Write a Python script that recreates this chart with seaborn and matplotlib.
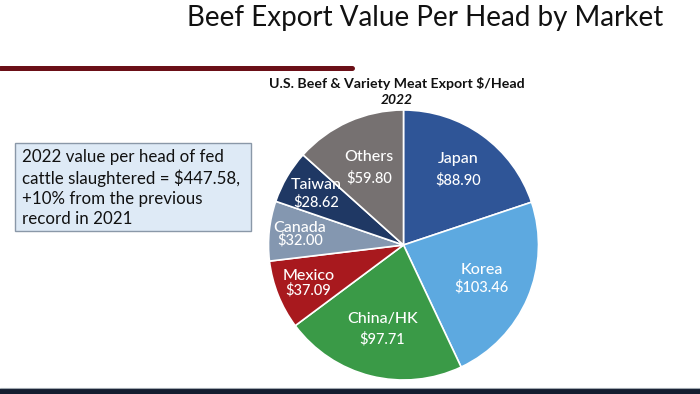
import matplotlib
matplotlib.use("Agg")
import matplotlib.pyplot as plt
import seaborn as sns
import numpy as np
from matplotlib.patches import Rectangle
from matplotlib.lines import Line2D

markets = ["Japan", "Korea", "China/HK", "Mexico", "Canada", "Taiwan", "Others"]
values = [88.90, 103.46, 97.71, 37.09, 32.00, 28.62, 59.80]
colors = ["#2F5597", "#5DA9E0", "#3A9A47", "#A8191E", "#8497B0", "#1F3864", "#767171"]
label_radius = [0.69, 0.63, 0.64, 0.76, 0.77, 0.75, 0.63]
label_gap = [0.078, 0.063, 0.074, 0.052, 0.048, 0.066, 0.078]

sns.set_theme(style="white")
plt.rcParams["font.family"] = ["Lato", "DejaVu Sans"]

fig = plt.figure(figsize=(7, 3.94), dpi=100)
fig.patch.set_facecolor("white")

# pie axes, centre ~(403.5, 245) px, radius 135 px
W, H = 700, 394
cx, cy, R = 403.5, 245, 135
ax = fig.add_axes([(cx - R) / W, (H - cy - R) / H, 2 * R / W, 2 * R / H])
wedges, _ = ax.pie(values, colors=sns.color_palette(colors), startangle=90, counterclock=False,
                   radius=1, wedgeprops=dict(edgecolor="white", linewidth=1.2))
ax.set_xlim(-1, 1)
ax.set_ylim(-1, 1)
ax.set_aspect("equal")
ax.axis("off")

for w, name, val, r, g in zip(wedges, markets, values, label_radius, label_gap):
    mid = np.deg2rad((w.theta1 + w.theta2) / 2)
    x, y = r * np.cos(mid), r * np.sin(mid)
    ax.text(x, y + g, name, color="white", ha="center", va="center", fontsize=11.5, fontweight="medium")
    ax.text(x, y - g, f"${val:.2f}", color="white", ha="center", va="center", fontsize=10.5, fontweight="medium")

# slide title
fig.text(425 / W, 1 - 18 / H, "Beef Export Value Per Head by Market", ha="center", va="center",
         fontsize=20, fontweight="normal", color="#111111")
fig.add_artist(Line2D([0, 352 / W], [1 - 68 / H] * 2, lw=3.6, color="#6B0F17", transform=fig.transFigure))

# chart titles
fig.text(397 / W, 1 - 83 / H, "U.S. Beef & Variety Meat Export $/Head", ha="center", va="center",
         fontsize=10.2, fontweight="bold", color="#111111")
fig.text(397 / W, 1 - 100 / H, "2022", ha="center", va="center",
         fontsize=10, fontweight="bold", fontstyle="italic", color="#111111")

# note box
fig.add_artist(Rectangle((15 / W, 1 - 231 / H), 236 / W, 88 / H, transform=fig.transFigure,
                         facecolor="#DEEAF6", edgecolor="#8A98A8", lw=1))
fig.text(22 / W, 1 - 188 / H,
         "2022 value per head of fed\ncattle slaughtered = $447.58,\n+10% from the previous\nrecord in 2021",
         ha="left", va="center", fontsize=12.2, linespacing=1.3, color="#111111")

# bottom band
fig.add_artist(Rectangle((0, 0), 1, 5 / H, transform=fig.transFigure, facecolor="#141D2F", edgecolor="none"))
fig.add_artist(Line2D([0, 1], [6.5 / H] * 2, lw=0.8, color="#A0A8B0", transform=fig.transFigure))

plt.savefig("out.png", dpi=100)
